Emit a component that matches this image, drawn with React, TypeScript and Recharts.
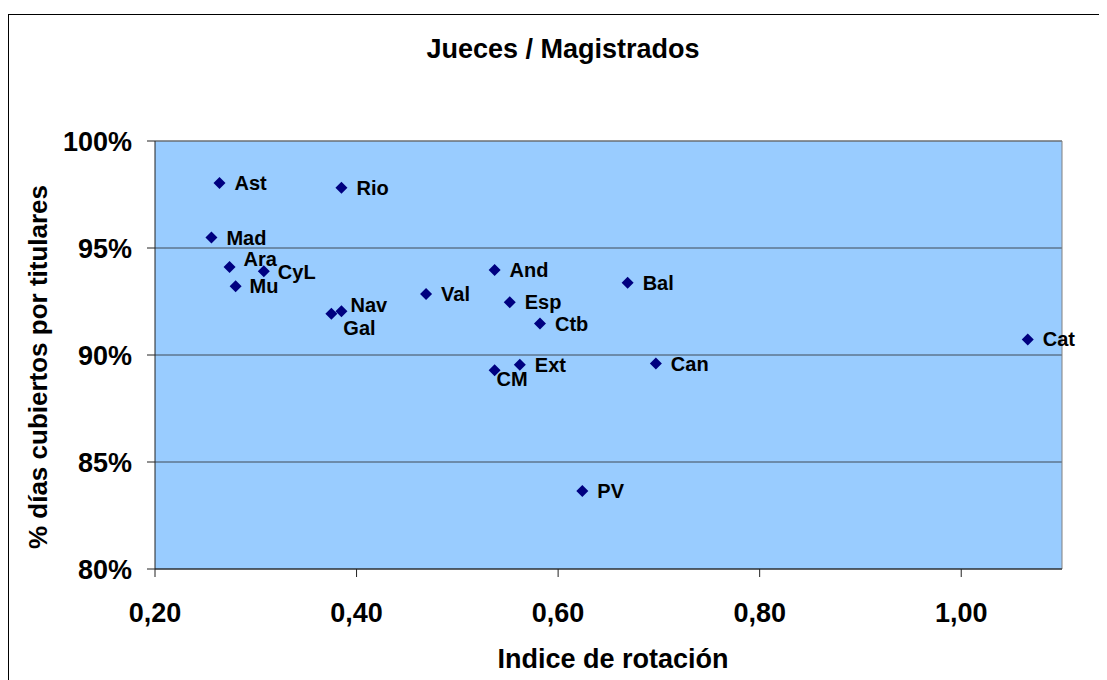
import {
  CartesianGrid,
  Customized,
  ReferenceLine,
  Scatter,
  ScatterChart,
  XAxis,
  YAxis,
} from "recharts";

const REGIONS = ["Ast", "Rio", "Mad", "Ara", "CyL", "Mu", "Gal", "Nav", "Val", "And", "Esp", "Ctb", "Bal", "CM", "Ext", "Can", "PV", "Cat"];
const ROTATION = [0.264, 0.385, 0.256, 0.274, 0.308, 0.28, 0.375, 0.385, 0.469, 0.537, 0.552, 0.582, 0.669, 0.537, 0.562, 0.697, 0.624, 1.066];
const COVERED = [0.9804, 0.9782, 0.9549, 0.9411, 0.9391, 0.9321, 0.9193, 0.9204, 0.9285, 0.9397, 0.9246, 0.9147, 0.9338, 0.8929, 0.8955, 0.896, 0.8364, 0.9073];
const X_TICKS = [0.2, 0.4, 0.6, 0.8, 1.0];
const Y_TICKS = [0.8, 0.85, 0.9, 0.95, 1.0];

const NAVY = "#000080";
const PLOT_BG = "#99CCFF";
const GRID = "#3f4b57";
const BORDER = "#808080";
const FONT = '"Liberation Sans", Arial, sans-serif';

// label offsets from the marker (the few that were dragged around in the original)
const NUDGE: Record<string, [number, number]> = {
  Ara: [14, -8],
  CyL: [14, 1],
  Mu: [14, 0],
  Nav: [9, -6],
  Gal: [12, 14],
  CM: [2, 9],
};

const data = REGIONS.map((name, i) => ({ name, x: ROTATION[i], y: COVERED[i] }));

function Marker(props: any) {
  const { cx, cy, payload } = props;
  const [dx, dy] = NUDGE[payload.name] ?? [15, 0];
  return (
    <g>
      <polygon
        points={`${cx},${cy - 6} ${cx + 6},${cy} ${cx},${cy + 6} ${cx - 6},${cy}`}
        fill={NAVY}
      />
      <text x={cx + dx} y={cy + dy + 7} fontSize={20} fontWeight={700} fill="#000">
        {payload.name}
      </text>
    </g>
  );
}

function Titles() {
  return (
    <g fontFamily={FONT} fontWeight={700} fill="#000">
      <text x={554} y={43} fontSize={27} textAnchor="middle">
        Jueces / Magistrados
      </text>
      <text x={604} y={653} fontSize={27} textAnchor="middle">
        Indice de rotación
      </text>
      <text x={38} y={352} fontSize={26} textAnchor="middle" transform="rotate(-90 38 352)">
        % días cubiertos por titulares
      </text>
    </g>
  );
}

export default function App() {
  return (
    <div
      style={{
        marginTop: 6,
        width: 1097,
        height: 666,
        boxSizing: "border-box",
        borderTop: "1px solid #000",
        borderLeft: "1px solid #000",
        borderRight: "1px solid #000",
        background: "#fff",
      }}
    >
      <ScatterChart
        width={1095}
        height={665}
        margin={{ top: 126, right: 42, left: 0, bottom: 0 }}
        style={{ fontFamily: FONT }}
      >
        <CartesianGrid vertical={false} fill={PLOT_BG} stroke={GRID} />
        <XAxis
          type="number"
          dataKey="x"
          domain={[0.2, 1.1]}
          ticks={X_TICKS}
          interval={0}
          height={111}
          tickSize={8}
          tickMargin={26}
          axisLine={{ stroke: "#222" }}
          tickLine={{ stroke: "#222" }}
          tick={{ fontSize: 27, fontWeight: 700, fill: "#000" }}
          tickFormatter={(v: number) => v.toFixed(2).replace(".", ",")}
        />
        <YAxis
          type="number"
          dataKey="y"
          domain={[0.8, 1.0]}
          ticks={Y_TICKS}
          interval={0}
          width={146}
          tickSize={8}
          tickMargin={15}
          axisLine={{ stroke: "#222" }}
          tickLine={{ stroke: "#222" }}
          tick={{ fontSize: 27, fontWeight: 700, fill: "#000" }}
          tickFormatter={(v: number) => `${Math.round(v * 100)}%`}
        />
        <ReferenceLine y={1.0} stroke={BORDER} />
        <ReferenceLine x={1.1} stroke={BORDER} />
        <Scatter data={data} shape={Marker} isAnimationActive={false} />
        <Customized component={Titles} />
      </ScatterChart>
    </div>
  );
}
